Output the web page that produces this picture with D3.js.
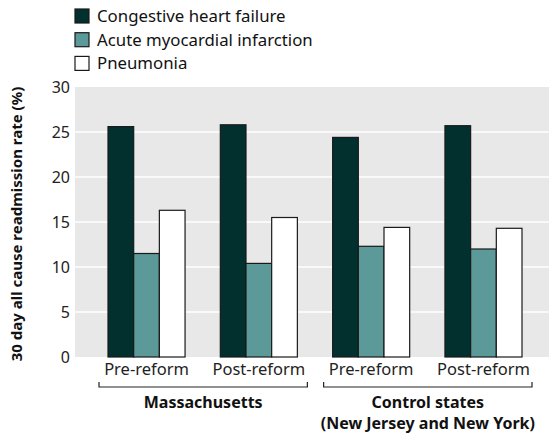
<!DOCTYPE html>
<html><head><meta charset="utf-8">
<script src="https://cdn.jsdelivr.net/npm/d3@7"></script>
<style>body{margin:0;background:#fff}svg{display:block}text{font-family:"Noto Sans",sans-serif}</style>
</head><body><svg id="c" width="552" height="437"></svg>
<script>
const groups = ["MA-Pre", "MA-Post", "CS-Pre", "CS-Post"];
const groupLabels = ["Pre-reform", "Post-reform", "Pre-reform", "Post-reform"];
const series = ["Congestive heart failure", "Acute myocardial infarction", "Pneumonia"];
const colors = ["#02302f", "#5b9a99", "#ffffff"];
const chf = [25.6, 25.8, 24.4, 25.7];
const ami = [11.5, 10.4, 12.3, 12.0];
const pneu = [16.3, 15.5, 14.4, 14.3];
const yTicks = [0, 5, 10, 15, 20, 25, 30];
const regions = [{label: ["Massachusetts"], from: 0, to: 1}, {label: ["Control states", "(New Jersey and New York)"], from: 2, to: 3}];
const yTitle = "30 day all cause readmission rate (%)";

const values = [chf, ami, pneu];
const svg = d3.select("#c");
const plot = {l: 75, r: 549, t: 87, b: 357};
const y = d3.scaleLinear().domain([0, 30]).range([plot.b, plot.t]);
const x = d3.scaleBand().domain(groups).range([108, 522]).paddingInner(0.314).paddingOuter(0);
const xs = d3.scaleBand().domain(series).range([0, x.bandwidth()]).padding(0);

svg.append("rect").attr("x", plot.l).attr("y", plot.t).attr("width", plot.r - plot.l).attr("height", plot.b - plot.t).attr("fill", "#e8e8e8");

svg.append("g").selectAll("line").data(yTicks.filter(d => d > 0 && d < 30)).join("line")
  .attr("x1", plot.l).attr("x2", plot.r).attr("y1", d => y(d)).attr("y2", d => y(d))
  .attr("stroke", "#fff").attr("stroke-width", 1.5);

const yAxis = svg.append("g").attr("transform", `translate(${plot.l},0)`)
  .call(d3.axisLeft(y).tickValues(yTicks).tickSize(0).tickPadding(5));
yAxis.select(".domain").remove();
yAxis.selectAll("text").attr("font-size", 16).attr("fill", "#222").attr("font-family", "'Noto Sans',sans-serif");

groups.forEach((g, gi) => {
  const gg = svg.append("g").attr("transform", `translate(${x(g)},0)`);
  series.forEach((s, si) => {
    const v = values[si][gi];
    gg.append("rect").attr("x", xs(s)).attr("y", y(v)).attr("width", xs.bandwidth()).attr("height", y(0) - y(v))
      .attr("fill", colors[si]).attr("stroke", "#1a1a1a").attr("stroke-width", 1.2);
  });
});

const xAxis = svg.append("g").attr("transform", `translate(0,${plot.b})`)
  .call(d3.axisBottom(x).tickSize(0).tickPadding(6).tickFormat((d, i) => groupLabels[i]));
xAxis.select(".domain").remove();
xAxis.selectAll("text").attr("font-size", 16.5).attr("fill", "#222").attr("font-family", "'Noto Sans',sans-serif");

regions.forEach(r => {
  const x1 = x(groups[r.from]) - 9, x2 = x(groups[r.to]) + x.bandwidth() + 10;
  const by = 387;
  svg.append("path").attr("d", `M${x1},${by - 5}V${by}H${x2}V${by - 5}`).attr("fill", "none").attr("stroke", "#222").attr("stroke-width", 1.2);
  const cx = (x1 + x2) / 2;
  r.label.forEach((t, i) => {
    svg.append("text").attr("x", cx).attr("y", 408 + i * 21).attr("text-anchor", "middle")
      .attr("font-size", 16).attr("font-weight", "bold").attr("fill", "#111").text(t);
  });
});

svg.append("text").attr("transform", `translate(22,${(plot.t + plot.b) / 2 + 2}) rotate(-90)`)
  .attr("text-anchor", "middle").attr("font-size", 15).attr("font-weight", "bold").attr("fill", "#111").text(yTitle);

const lg = svg.append("g");
series.forEach((s, i) => {
  const cy = 16 + i * 23.7;
  lg.append("rect").attr("x", 75).attr("y", cy - 7).attr("width", 14).attr("height", 14)
    .attr("fill", colors[i]).attr("stroke", "#1a1a1a").attr("stroke-width", 1.2);
  lg.append("text").attr("x", 97).attr("y", cy).attr("dy", "0.35em").attr("font-size", 16.8).attr("fill", "#111").text(s);
});
</script></body></html>
